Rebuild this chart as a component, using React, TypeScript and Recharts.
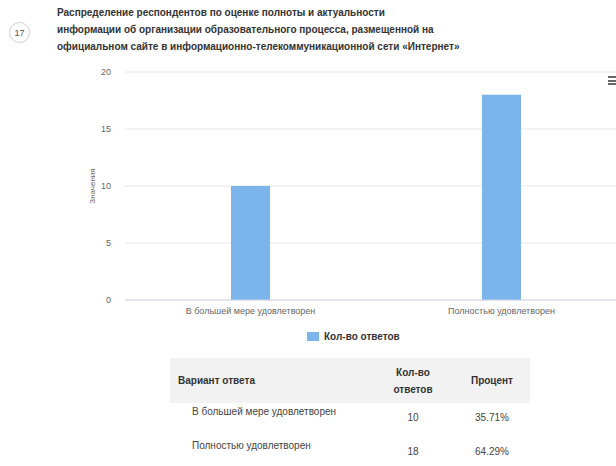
import { BarChart, Bar, XAxis, YAxis, CartesianGrid } from "recharts";

const categories = ["В большей мере удовлетворен", "Полностью удовлетворен"];
const counts = [10, 18];
const percents = ["35.71%", "64.29%"];
const yTicks = [0, 5, 10, 15, 20];
const seriesName = "Кол-во ответов";

const titleLines = [
  "Распределение респондентов по оценке полноты и актуальности",
  "информации об организации образовательного процесса, размещенной на",
  "официальном сайте в информационно-телекоммуникационной сети «Интернет»",
];

const FONT = "'Liberation Sans', Arial, sans-serif";

export default function App() {
  const chartData = categories.map((c, i) => ({ name: c, value: counts[i] }));

  return (
    <div style={{ position: "absolute", left: 0, top: 0, width: 616, height: 466, overflow: "hidden", background: "#fff", fontFamily: FONT }}>
      {/* number badge */}
      <div
        style={{
          position: "absolute", left: 9, top: 22, width: 21, height: 21, borderRadius: "50%",
          border: "1px solid #cfcfcf", fontSize: 9, color: "#555", display: "flex",
          alignItems: "center", justifyContent: "center", boxSizing: "border-box",
        }}
      >
        17
      </div>
      <div style={{ position: "absolute", left: 57, top: 4, fontSize: 10, fontWeight: 700, color: "#333", lineHeight: "17px" }}>
        {titleLines.map(l => <div key={l}>{l}</div>)}
      </div>

      {/* menu icon */}
      <div style={{ position: "absolute", left: 608, top: 76, width: 10 }}>
        {[0, 1, 2].map(i => <div key={i} style={{ height: 2, background: "#666", marginBottom: 1.5 }} />)}
      </div>

      <div style={{ position: "absolute", left: 0, top: 0 }}>
        <BarChart width={640} height={320} data={chartData} margin={{ top: 72, right: 13, left: 0, bottom: 0 }} barSize={39}>
          <CartesianGrid vertical={false} stroke="#e6e6e6" />
          <XAxis
            dataKey="name"
            height={20}
            tick={{ fontSize: 9, fill: "#666", fontFamily: FONT }}
            tickLine={false}
            axisLine={{ stroke: "#ccd6eb" }}
            interval={0}
          />
          <YAxis
            width={125}
            domain={[0, 20]}
            ticks={yTicks}
            tick={{ fontSize: 9, fill: "#666", fontFamily: FONT }}
            axisLine={false}
            tickLine={false}
            tickSize={12}
            label={{ value: "Значения", angle: -90, position: "insideLeft", offset: 92, style: { fontSize: 8, fill: "#666", fontFamily: FONT, textAnchor: "middle" } }}
          />
          <Bar dataKey="value" name={seriesName} fill="#7cb5ec" isAnimationActive={false} />
        </BarChart>
      </div>

      {/* legend */}
      <div style={{ position: "absolute", left: 307, top: 331, display: "flex", alignItems: "center", fontSize: 10, fontWeight: 700, color: "#333" }}>
        <div style={{ width: 12, height: 9, background: "#7cb5ec", marginRight: 5 }} />
        <span>{seriesName}</span>
      </div>

      <table
        style={{
          position: "absolute", left: 170, top: 358, width: 360, borderCollapse: "collapse",
          fontSize: 10, color: "#333", fontFamily: FONT,
        }}
      >
        <thead>
          <tr style={{ background: "#f2f2f2", height: 45 }}>
            <th style={{ textAlign: "left", paddingLeft: 8, fontWeight: 700, padding: "0 0 0 8px" }}>Вариант ответа</th>
            <th style={{ width: 82, textAlign: "center", fontWeight: 700, lineHeight: "17px", padding: 0 }}>Кол-во<br />ответов</th>
            <th style={{ width: 76, textAlign: "center", fontWeight: 700, padding: 0 }}>Процент</th>
          </tr>
        </thead>
        <tbody>
          {categories.map((c, i) => (
            <tr key={c} style={{ height: 34 }}>
              <td style={{ padding: "3px 0 0 22px", color: "#444", verticalAlign: "top" }}>{c}</td>
              <td style={{ textAlign: "center", color: "#444", padding: "9px 0 0 0", verticalAlign: "top" }}>{counts[i]}</td>
              <td style={{ textAlign: "center", color: "#444", padding: "9px 0 0 0", verticalAlign: "top" }}>{percents[i]}</td>
            </tr>
          ))}
        </tbody>
      </table>
    </div>
  );
}
